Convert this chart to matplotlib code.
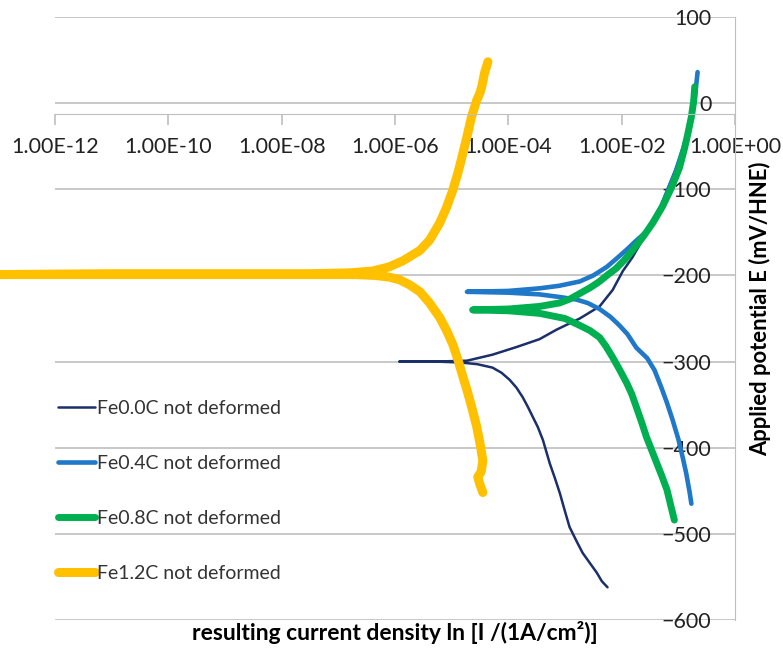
import numpy as np
import matplotlib
matplotlib.use("Agg")
import matplotlib.pyplot as plt
from matplotlib.lines import Line2D
from matplotlib.ticker import FixedLocator, FuncFormatter, NullLocator

plt.rcParams['font.family'] = ['Lato', 'DejaVu Sans']

# series: log10 of current density and applied potential (mV), in scan order
fe00_log_i = [-2.25, -2.35, -2.44, -2.56, -2.69, -2.8, -2.92, -3.0, -3.09, -3.18, -3.27, -3.39, -3.48,
              -3.57, -3.66, -3.75, -3.86, -3.98, -4.12, -4.28, -4.55, -4.86, -5.3, -5.92,
              -5.3, -4.73, -4.28, -3.85, -3.45, -3.15, -2.74, -2.39, -2.16, -1.98, -1.81, -1.6,
              -1.3, -0.98, -0.85]
fe00_e = [-562, -555, -545, -534, -522, -508, -492, -474, -453, -435, -418, -391, -376,
          -364, -352, -341, -330, -321, -313, -307, -303, -301, -300, -300,
          -300, -299, -292, -283, -274, -263, -250, -236, -217, -195, -179, -155,
          -118, -66, -42]

fe04_log_i = [-0.77, -0.80, -0.86, -0.92, -1.0, -1.1, -1.2, -1.3, -1.42, -1.55, -1.74, -1.9, -2.04,
              -2.2, -2.39, -2.6, -2.8, -3.1, -3.45, -4.0, -4.73,
              -4.0, -3.45, -3.1, -2.74, -2.5, -2.26, -2.1, -1.91, -1.75, -1.56, -1.3, -1.05,
              -0.85, -0.72, -0.66]
fe04_e = [-465, -452, -430, -412, -390, -368, -348, -330, -310, -296, -284, -268, -258,
          -248, -239, -232, -228, -225, -222, -220, -219,
          -218, -215, -212, -207, -200, -190, -181, -170, -160, -149, -120, -80,
          -40, 0, 36]

fe08_log_i = [-1.07, -1.13, -1.2, -1.29, -1.38, -1.47, -1.56, -1.65, -1.74, -1.82, -1.91, -2.04, -2.16,
              -2.28, -2.39, -2.56, -2.74, -3.0, -3.45, -4.0, -4.63,
              -4.0, -3.45, -3.1, -2.9, -2.74, -2.55, -2.39, -2.26, -2.1, -1.95, -1.81, -1.62,
              -1.45, -1.28, -1.12, -0.98, -0.9, -0.84, -0.77, -0.73, -0.71]
fe08_e = [-484, -468, -449, -433, -418, -403, -388, -370, -353, -338, -325, -309, -295,
          -282, -272, -264, -258, -250, -244, -241, -240,
          -239, -236, -232, -227, -221, -214, -207, -200, -192, -182, -171, -155,
          -139, -120, -98, -75, -55, -38, -16, 2, 19]

fe12_log_i = [-4.45, -4.50, -4.54, -4.48, -4.45, -4.5, -4.56, -4.65, -4.73, -4.8, -4.88, -4.98, -5.09,
              -5.21, -5.39, -5.56, -5.74, -5.92, -6.1, -6.35, -6.7, -7.5, -9.0, -11.0, -13.0,
              -11.0, -9.0, -7.5, -6.8, -6.4, -6.1, -5.86, -5.56, -5.39, -5.21, -5.09, -4.98, -4.89,
              -4.82, -4.73, -4.65, -4.56, -4.5, -4.47, -4.42, -4.36]
fe12_e = [-452, -443, -434, -428, -415, -395, -375, -352, -333, -318, -300, -280, -264,
          -249, -232, -219, -211, -205, -202, -200, -199, -199, -199, -199, -199,
          -198, -198, -198, -197, -195, -190, -183, -171, -159, -139, -121, -101, -81,
          -63, -39, -16, 3, 12, 19, 35, 48]

labels = ['Fe0.0C not deformed', 'Fe0.4C not deformed', 'Fe0.8C not deformed', 'Fe1.2C not deformed']
colors = ['#1b2f6b', '#1f78c8', '#00b050', '#ffc000']
widths = [1.8, 3.3, 5.0, 6.5]

x_ticks = [1e-12, 1e-10, 1e-8, 1e-6, 1e-4, 1e-2, 1e0]
y_ticks = [-600, -500, -400, -300, -200, -100, 0, 100]

fig = plt.figure(figsize=(7.83, 6.5), dpi=100)
ax = fig.add_axes([55 / 783, 1 - 620 / 650, 680 / 783, 603 / 650])

series = [(fe00_log_i, fe00_e), (fe04_log_i, fe04_e), (fe08_log_i, fe08_e), (fe12_log_i, fe12_e)]
for (li, e), c, w, lab in zip(series, colors, widths, labels):
    ax.plot(10 ** np.array(li), e, color=c, lw=w, label=lab,
            solid_capstyle='round', solid_joinstyle='round', clip_on=(lab != labels[3]))

ax.set_xscale('log')
ax.set_xlim(1e-12, 1e0)
ax.set_ylim(-600, 100)

grid_c = '#bfbfbf'
ax.xaxis.set_major_locator(FixedLocator(x_ticks))
ax.xaxis.set_minor_locator(NullLocator())
ax.xaxis.set_major_formatter(FuncFormatter(lambda v, p: f"{v:.2E}"))
ax.set_yticks(y_ticks)
ax.yaxis.grid(True, color=grid_c, lw=1.2)
ax.set_axisbelow(True)

for s in ['top', 'left']:
    ax.spines[s].set_visible(False)
ax.spines['right'].set_color(grid_c)
ax.spines['bottom'].set_color(grid_c)
ax.spines['bottom'].set_position(('data', -13))

ax.tick_params(axis='x', direction='out', length=8, color=grid_c, width=1.2,
               labelsize=15.5, pad=8, labelcolor='#222222')
ax.yaxis.set_ticks_position('right')
ax.tick_params(axis='y', length=0, labelsize=15.5, pad=-17, labelcolor='#222222')
for t in ax.yaxis.get_major_ticks():
    t.label2.set_horizontalalignment('right')

fig.text(395 / 783, 1 - 633 / 650, 'resulting current density ln [I /(1A/cm\u00b2)]',
         ha='center', va='center', fontsize=16.5, fontweight='bold')
fig.text(760 / 783, 1 - 309 / 650, 'Applied potential E (mV/HNE)',
         ha='center', va='center', rotation=90, fontsize=15.8, fontweight='bold')

handles = [Line2D([], [], color=c, lw=w, solid_capstyle='round') for c, w in zip(colors, widths)]
ax.legend(handles, labels, loc='upper left', bbox_to_anchor=(58 / 783, 1 - 400 / 650),
          bbox_transform=fig.transFigure, frameon=False, fontsize=14,
          handlelength=1.9, handletextpad=0.1, labelspacing=1.95, borderpad=0, borderaxespad=0,
          labelcolor='#333333')

fig.savefig('out.png', dpi=100)
